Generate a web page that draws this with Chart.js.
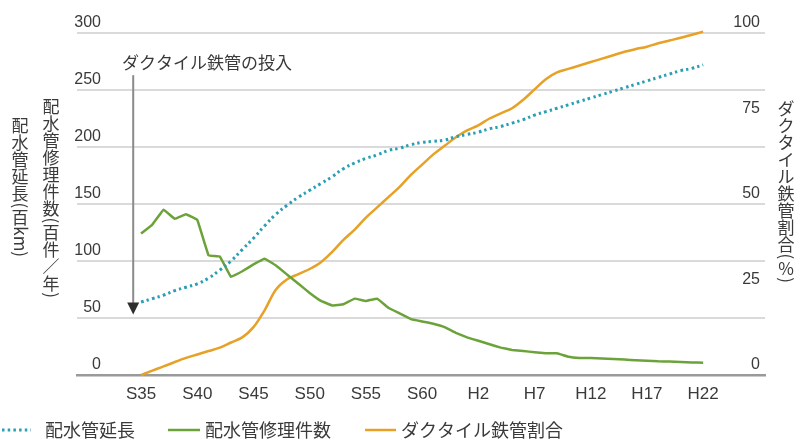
<!DOCTYPE html>
<html>
<head>
<meta charset="utf-8">
<script src="https://cdn.jsdelivr.net/npm/chart.js@4.4.1/dist/chart.umd.min.js"></script>
<style>
  html, body { margin: 0; padding: 0; background: #fff; }
  #wrap { width: 800px; height: 441px; position: relative; }
</style>
</head>
<body>
<div id="wrap"><canvas id="chart"></canvas></div>
<script>
/* Data (Showa 35 .. Heisei 22) */
const YEARS = [];
for (let y = 1960; y <= 2010; y++) YEARS.push(y);

// 配水管延長 (百km), left axis
const PIPE_LENGTH = [
    64, 67, 70, 74, 77, 80, 85, 92, 100, 110,
    120, 131, 141, 149, 156, 162, 168, 174, 181, 186,
    190, 193, 197, 199, 202, 204, 205, 206, 209, 211,
    213, 216, 218, 221, 224, 228, 231, 234, 237, 240,
    243, 246, 249, 252, 255, 258, 261, 264, 267, 269,
    272,
];

// 配水管修理件数 (百件/年), left axis
const REPAIRS = [
    124, 132, 145, 137, 141, 136, 105, 104, 86, 91,
    97, 102, 96, 88, 80, 72, 65, 61, 62, 67,
    65, 67, 59, 54, 49, 47, 45, 42, 37, 33,
    30, 27, 24, 22, 21, 20, 19, 19, 16, 15,
    15, 14.5, 14, 13.5, 13, 12.5, 12, 11.8, 11.5, 11,
    10.8,
];

// ダクタイル鉄管割合 (%), right axis
const DUCTILE_SHARE = [
    0, 1.3, 2.5, 3.8, 5, 6, 7, 8, 9.5, 11,
    14, 19, 25, 28, 29.5, 31, 33, 36, 39.5, 42.5,
    46, 49, 52, 55, 58.5, 61.5, 64.5, 67, 69.5, 71.5,
    73, 75, 76.5, 78, 80.5, 83.5, 86.5, 88.5, 89.5, 90.5,
    91.5, 92.5, 93.5, 94.5, 95.3, 96, 97, 97.8, 98.6, 99.5,
    100.4,
];

const TICK_YEARS = [1960, 1965, 1970, 1975, 1980, 1985, 1990, 1995, 2000, 2005, 2010];
const TICK_LABELS = ["S35", "S40", "S45", "S50", "S55", "S60", "H2", "H7", "H12", "H17", "H22"];

const LEFT_TICKS = [0, 50, 100, 150, 200, 250, 300];
const RIGHT_TICKS = [0, 25, 50, 75, 100];

const SERIES_NAMES = ["配水管延長", "配水管修理件数", "ダクタイル鉄管割合"];
const LEFT_TITLE_1 = "配水管延長(百km)";
const LEFT_TITLE_2 = "配水管修理件数(百件／年)";
const RIGHT_TITLE = "ダクタイル鉄管割合(%)";
const NOTE_TEXT = "ダクタイル鉄管の投入";
const NOTE_YEAR = 1959.3;      // where the arrow stands
const NOTE_FROM = 263;         // arrow top, left axis units
const NOTE_TO = 53;            // arrow tip, left axis units

const COLORS = {
    length: "#2a9fb3",
    repairs: "#6ba33a",
    share: "#e6a126",
    grid: "#dadada",
    axis: "#9a9a9a",
    text: "#3a3a3a",
};

const JP_FONT = "'Noto Sans CJK JP', 'Noto Sans', sans-serif";
const NUM_FONT = "'Liberation Sans Narrow', 'Liberation Sans', sans-serif";

const pts = vals => vals.map((v, i) => ({ x: YEARS[i], y: v }));

/* Vertical Japanese text; latin letters and brackets lie on their side */
function drawVertical(ctx, text, cx, top, size) {
    const tokens = text.match(/[A-Za-z()]+|./g);
    let y = top;
    ctx.save();
    ctx.font = `${size}px ${JP_FONT}`;
    ctx.fillStyle = COLORS.text;
    ctx.textAlign = "center";
    ctx.textBaseline = "middle";
    for (const t of tokens) {
        if (/^[A-Za-z()]+$/.test(t)) {
            const w = ctx.measureText(t).width + 1;
            ctx.save();
            ctx.translate(cx, y + w / 2);
            ctx.rotate(Math.PI / 2);
            ctx.fillText(t, 0, 0);
            ctx.restore();
            y += w;
        } else {
            ctx.fillText(t, cx, y + size / 2);
            y += size;
        }
    }
    ctx.restore();
}

const decorations = {
    id: "decorations",
    afterDraw(chart) {
        const { ctx, scales } = chart;
        const yl = scales.y, yr = scales.y2, x = scales.x;

        // tick labels sit just above their grid lines
        ctx.save();
        ctx.font = `16px ${NUM_FONT}`;
        ctx.fillStyle = COLORS.text;
        ctx.textAlign = "right";
        ctx.textBaseline = "middle";
        LEFT_TICKS.forEach(v => ctx.fillText(String(v), 101, yl.getPixelForValue(v) - 10));
        RIGHT_TICKS.forEach(v => ctx.fillText(String(v), 760, yr.getPixelForValue(v) - 10));
        ctx.restore();

        drawVertical(ctx, LEFT_TITLE_1, 20, 117, 17);
        drawVertical(ctx, LEFT_TITLE_2, 51, 98, 17);
        drawVertical(ctx, RIGHT_TITLE, 786, 100, 17);

        // annotation arrow
        const ax = x.getPixelForValue(NOTE_YEAR);
        const top = yl.getPixelForValue(NOTE_FROM);
        const tip = yl.getPixelForValue(NOTE_TO);
        ctx.save();
        ctx.strokeStyle = "#8a8a8a";
        ctx.lineWidth = 2;
        ctx.beginPath();
        ctx.moveTo(ax, top);
        ctx.lineTo(ax, tip - 10);
        ctx.stroke();
        ctx.fillStyle = "#2e2e2e";
        ctx.beginPath();
        ctx.moveTo(ax - 6, tip - 12);
        ctx.lineTo(ax + 6, tip - 12);
        ctx.lineTo(ax, tip);
        ctx.closePath();
        ctx.fill();
        ctx.font = `17px ${JP_FONT}`;
        ctx.fillStyle = COLORS.text;
        ctx.textAlign = "left";
        ctx.textBaseline = "middle";
        ctx.fillText(NOTE_TEXT, 122, 63);
        ctx.restore();

        // legend
        const ds = chart.data.datasets;
        const items = [
            { x0: 2, x1: 31, tx: 45 },
            { x0: 168, x1: 200, tx: 205 },
            { x0: 365, x1: 396, tx: 401 },
        ];
        ctx.save();
        ctx.font = `18px ${JP_FONT}`;
        ctx.textBaseline = "middle";
        items.forEach((it, i) => {
            ctx.strokeStyle = ds[i].borderColor;
            ctx.lineWidth = ds[i].borderWidth;
            ctx.setLineDash(ds[i].borderDash || []);
            ctx.beginPath();
            ctx.moveTo(it.x0, 430);
            ctx.lineTo(it.x1, 430);
            ctx.stroke();
            ctx.setLineDash([]);
            ctx.fillStyle = COLORS.text;
            ctx.fillText(ds[i].label, it.tx, 430);
        });
        ctx.restore();
    },
};

new Chart(document.getElementById("chart"), {
    type: "line",
    data: {
        datasets: [
            {
                label: SERIES_NAMES[0],
                data: pts(PIPE_LENGTH),
                yAxisID: "y",
                borderColor: COLORS.length,
                borderWidth: 3,
                borderDash: [2.5, 3.2],
                tension: 0.4,
                pointRadius: 0,
                clip: false,
            },
            {
                label: SERIES_NAMES[1],
                data: pts(REPAIRS),
                yAxisID: "y",
                borderColor: COLORS.repairs,
                borderWidth: 2.5,
                tension: 0.05,
                pointRadius: 0,
                clip: false,
            },
            {
                label: SERIES_NAMES[2],
                data: pts(DUCTILE_SHARE),
                yAxisID: "y2",
                borderColor: COLORS.share,
                borderWidth: 2.5,
                tension: 0.35,
                pointRadius: 0,
                clip: false,
            },
        ],
    },
    options: {
        responsive: true,
        maintainAspectRatio: false,
        animation: false,
        layout: { padding: { left: 77, right: 35, top: 33, bottom: 36 } },
        plugins: {
            legend: { display: false },
            tooltip: { enabled: false },
        },
        scales: {
            x: {
                type: "linear",
                min: 1954.3,
                max: 2015.5,
                afterBuildTicks: s => { s.ticks = TICK_YEARS.map(v => ({ value: v })); },
                afterFit: s => { s.height = 30; },
                grid: { display: false, drawTicks: false },
                border: { color: COLORS.axis, width: 2.5 },
                ticks: {
                    autoSkip: false,
                    maxRotation: 0,
                    padding: 9,
                    color: COLORS.text,
                    font: { family: NUM_FONT, size: 17 },
                    callback: v => TICK_LABELS[TICK_YEARS.indexOf(v)],
                },
            },
            y: {
                position: "left",
                min: 0,
                max: 300,
                afterBuildTicks: s => { s.ticks = LEFT_TICKS.map(v => ({ value: v })); },
                afterFit: s => { s.width = 0; },
                grid: { color: COLORS.grid, lineWidth: 2, drawTicks: false },
                border: { display: false },
                ticks: { display: false },
            },
            y2: {
                position: "right",
                min: 0,
                max: 100,
                afterBuildTicks: s => { s.ticks = RIGHT_TICKS.map(v => ({ value: v })); },
                afterFit: s => { s.width = 0; },
                grid: { display: false, drawTicks: false },
                border: { display: false },
                ticks: { display: false },
            },
        },
    },
    plugins: [decorations],
});
</script>
</body>
</html>
